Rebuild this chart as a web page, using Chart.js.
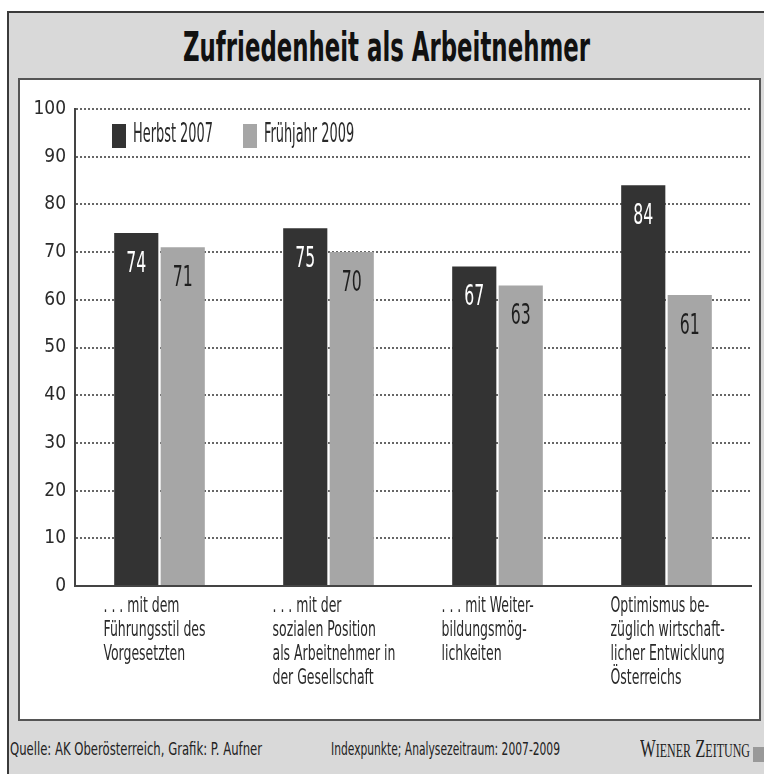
<!DOCTYPE html>
<html><head><meta charset="utf-8">
<script src="https://cdn.jsdelivr.net/npm/chart.js@4/dist/chart.umd.min.js"></script>
<style>
html,body{margin:0;padding:0;background:#fff;}
#page{position:relative;width:764px;height:774px;overflow:hidden;background:#fff;}
#outer{position:absolute;left:7px;top:11px;width:770px;height:780px;background:#d9d9d9;border-left:2px solid #3a3a3a;border-top:2px solid #3a3a3a;}
#panel{position:absolute;left:18px;top:78px;width:743px;height:643px;background:#fff;border:2px solid #555;box-sizing:border-box;}
.t{position:absolute;white-space:nowrap;transform-origin:0 50%;line-height:1;}
#title{font-family:'Liberation Sans Narrow','DejaVu Sans Condensed','Liberation Sans',sans-serif;font-weight:bold;font-size:40px;color:#111;left:183px;top:27px;}
.foot{font-family:'Liberation Sans Narrow','DejaVu Sans Condensed','Liberation Sans',sans-serif;font-size:18px;color:#222;top:740px;}
#wz{font-family:'Liberation Serif','DejaVu Serif',serif;font-variant:small-caps;font-size:25px;color:#222;left:640px;top:736px;}
#sq{position:absolute;left:753px;top:747px;width:14px;height:15px;background:#999;}
canvas{position:absolute;left:0;top:0;}
</style></head>
<body><div id="page">
<div id="outer"></div>
<div id="panel"></div>
<div class="t" id="title" data-w="407">Zufriedenheit als Arbeitnehmer</div>
<div class="t foot" id="f1" style="left:10px" data-w="252">Quelle: AK Oberösterreich, Grafik: P. Aufner</div>
<div class="t foot" id="f2" style="left:331px" data-w="229">Indexpunkte; Analysezeitraum: 2007-2009</div>
<div class="t" id="wz" data-w="110">Wiener Zeitung</div>
<div id="sq"></div>
<canvas id="c" width="764" height="774"></canvas>
</div>
<script>
// ---- data ----
const categories = [
  [". . . mit dem", "Führungsstil des", "Vorgesetzten"],
  [". . . mit der", "sozialen Position", "als Arbeitnehmer in", "der Gesellschaft"],
  [". . . mit Weiter-", "bildungsmög-", "lichkeiten"],
  ["Optimismus be-", "züglich wirtschaft-", "licher Entwicklung", "Österreichs"]
];
const seriesNames = ["Herbst 2007", "Frühjahr 2009"];
const herbst2007 = [74, 75, 67, 84];
const fruehjahr2009 = [71, 70, 63, 61];
const yMin = 0, yMax = 100, yStep = 10;

// ---- styling ----
const FONT = "'Liberation Sans Narrow','DejaVu Sans Condensed','Liberation Sans',sans-serif";
const colors = ['#333333', '#a6a6a6'];
const labelColors = ['#ffffff', '#1e1e1e'];

// fit HTML texts to their reference widths
document.querySelectorAll('.t').forEach(el => {
  const w = el.getBoundingClientRect().width;
  const target = +el.dataset.w;
  el.style.transform = 'scaleX(' + (target / w) + ')';
});

function drawScaled(ctx, text, x, y, sx, align) {
  ctx.save();
  ctx.translate(x, y);
  ctx.scale(sx, 1);
  ctx.textAlign = align || 'left';
  ctx.fillText(text, 0, 0);
  ctx.restore();
}

const extras = {
  id: 'extras',
  afterDatasetsDraw(chart) {
    const ctx = chart.ctx;
    const xs = chart.scales.x;
    ctx.save();
    ctx.textBaseline = 'middle';
    // value labels inside bars
    ctx.font = '29px ' + FONT;
    const sxV = 20 / ctx.measureText('74').width;
    chart.data.datasets.forEach((ds, di) => {
      const meta = chart.getDatasetMeta(di);
      ctx.fillStyle = labelColors[di];
      meta.data.forEach((bar, i) => {
        drawScaled(ctx, String(ds.data[i]), bar.x, bar.y + 31, sxV, 'center');
      });
    });
    // legend
    ctx.font = '27px ' + FONT;
    const sxL = 80 / ctx.measureText(seriesNames[0]).width;
    const legX = [112, 243];
    chart.data.datasets.forEach((ds, di) => {
      ctx.fillStyle = ds.backgroundColor;
      ctx.fillRect(legX[di], 124, 14, 24);
      ctx.fillStyle = '#2a2a2a';
      drawScaled(ctx, ds.label, legX[di] + 21, 135, sxL, 'left');
    });
    // category labels (left aligned, multi-line)
    ctx.font = '22px ' + FONT;
    const sxC = 102 / ctx.measureText('Führungsstil des').width;
    ctx.fillStyle = '#2a2a2a';
    categories.forEach((lines, i) => {
      const x = xs.getPixelForValue(i) - 56;
      lines.forEach((ln, k) => {
        drawScaled(ctx, ln, x, 606 + k * 24, sxC, 'left');
      });
    });
    ctx.restore();
  }
};

new Chart(document.getElementById('c'), {
  type: 'bar',
  data: {
    labels: categories.map(c => c.join(' ')),
    datasets: [
      { label: seriesNames[0], data: herbst2007, backgroundColor: colors[0] },
      { label: seriesNames[1], data: fruehjahr2009, backgroundColor: colors[1] }
    ]
  },
  options: {
    responsive: false,
    animation: false,
    events: [],
    layout: { padding: { left: 0, top: 109, right: 13, bottom: 188 } },
    datasets: { bar: { categoryPercentage: 0.55, barPercentage: 0.95 } },
    plugins: { legend: { display: false }, tooltip: { enabled: false } },
    scales: {
      x: {
        grid: { display: false },
        ticks: { display: false },
        border: { display: true, color: '#444', width: 2 },
        afterFit: s => { s.height = 0; }
      },
      y: {
        min: yMin, max: yMax,
        ticks: { stepSize: yStep, color: '#2a2a2a', font: { family: FONT, size: 19 }, padding: 9 },
        grid: { color: '#666', lineWidth: 2, drawTicks: false },
        border: { display: true, color: '#444', width: 2, dash: [2, 2] },
        afterFit: s => { s.width = 75; }
      }
    }
  },
  plugins: [extras]
});
</script>
</body></html>
